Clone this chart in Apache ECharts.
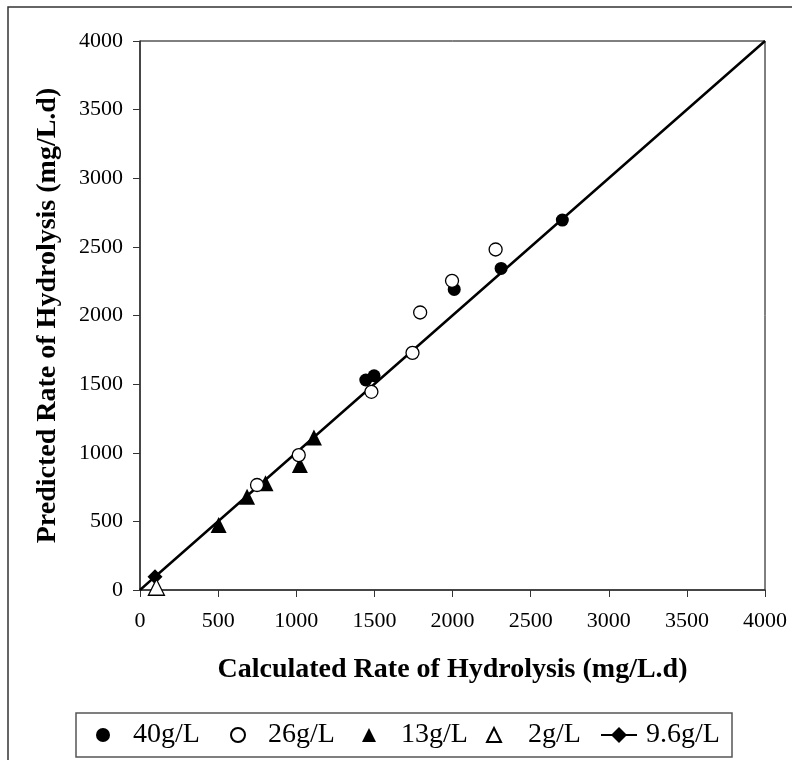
<!DOCTYPE html>
<html>
<head>
<meta charset="utf-8">
<script src="https://cdn.jsdelivr.net/npm/echarts@6/dist/echarts.min.js"></script>
<style>html,body{margin:0;padding:0;background:#fff}#c{width:792px;height:760px}</style>
</head>
<body>
<div id="c"></div>
<script>
const xTicks = [0, 500, 1000, 1500, 2000, 2500, 3000, 3500, 4000];
const yTicks = [0, 500, 1000, 1500, 2000, 2500, 3000, 3500, 4000];
const seriesNames = ['40g/L', '26g/L', '13g/L', '2g/L', '9.6g/L'];
const data40 = [[1445,1530],[1498,1561],[2011,2190],[2311,2343],[2703,2695]];
const data26 = [[749,765],[1016,983],[1481,1444],[1744,1728],[1793,2022],[1997,2253],[2276,2481]];
const data13 = [[503,473],[685,680],[803,777],[1023,910],[1113,1112]];
const data2 = [[105,20]];
const data96 = [[0,0],[96,97],[4000,4000]];

const serif = '"Liberation Serif","Times New Roman",serif';
const chart = echarts.init(document.getElementById('c'));

function mkLegend(name, left, iw, ih, pad) {
  return {
    data: [name], left: left, top: 720, padding: 0,
    itemWidth: iw, itemHeight: ih, selectedMode: false,
    textStyle: {fontFamily: serif, fontSize: 28, color: '#000', padding: [0,0,0,pad], lineHeight: 30}
  };
}

chart.setOption({
  animation: false,
  backgroundColor: '#fff',
  grid: {left: 140, right: 27, top: 41, bottom: 170, show: true, borderColor: '#000', borderWidth: 1},
  legend: [
    mkLegend(seriesNames[0], 96, 14, 14, 18),
    mkLegend(seriesNames[1], 230, 14, 14, 18),
    mkLegend(seriesNames[2], 362, 14, 14, 20),
    mkLegend(seriesNames[3], 486, 14, 14, 22),
    mkLegend(seriesNames[4], 600, 36, 20, 4)
  ],
  graphic: [
    {type: 'rect', shape: {x: 8, y: 7, width: 800, height: 800}, style: {fill: 'none', stroke: '#333', lineWidth: 1.5}, silent: true},
    {type: 'rect', shape: {x: 76, y: 713, width: 656, height: 44}, style: {fill: 'none', stroke: '#555', lineWidth: 1.5}, silent: true}
  ],
  xAxis: {
    type: 'value', min: xTicks[0], max: xTicks[xTicks.length-1], interval: xTicks[1]-xTicks[0],
    name: 'Calculated Rate of Hydrolysis (mg/L.d)', nameLocation: 'middle', nameGap: 66,
    nameTextStyle: {fontFamily: serif, fontSize: 28, fontWeight: 'bold', color: '#000'},
    axisLine: {show: true, lineStyle: {color: '#333', width: 1.5}},
    axisTick: {show: true, length: 7, lineStyle: {color: '#333'}},
    axisLabel: {fontFamily: serif, fontSize: 22, color: '#000', margin: 20, formatter: v => String(v)},
    splitLine: {show: false}
  },
  yAxis: {
    type: 'value', min: yTicks[0], max: yTicks[yTicks.length-1], interval: yTicks[1]-yTicks[0],
    name: 'Predicted Rate of Hydrolysis (mg/L.d)', nameLocation: 'middle', nameGap: 78,
    nameTextStyle: {fontFamily: serif, fontSize: 28, fontWeight: 'bold', color: '#000'},
    axisLine: {show: true, lineStyle: {color: '#333', width: 1.5}},
    axisTick: {show: true, length: 7, lineStyle: {color: '#333'}},
    axisLabel: {fontFamily: serif, fontSize: 22, color: '#000', margin: 17, formatter: v => String(v)},
    splitLine: {show: false}
  },
  series: [
    {name: seriesNames[4], type: 'line', data: data96, symbol: 'diamond',
     symbolSize: (v, p) => (p.dataIndex === 1 ? 15 : 0), showSymbol: true,
     lineStyle: {color: '#000', width: 2.5}, itemStyle: {color: '#000', opacity: 1}, z: 2},
    {name: seriesNames[0], type: 'scatter', data: data40, symbol: 'circle', symbolSize: 13,
     itemStyle: {color: '#000', opacity: 1}, z: 3},
    {name: seriesNames[1], type: 'scatter', data: data26, symbol: 'circle', symbolSize: 13,
     itemStyle: {color: '#fff', borderColor: '#000', borderWidth: 1.3, opacity: 1}, z: 4},
    {name: seriesNames[2], type: 'scatter', data: data13, symbol: 'triangle', symbolSize: 16,
     itemStyle: {color: '#000', opacity: 1}, z: 3},
    {name: seriesNames[3], type: 'scatter', data: data2, symbol: 'triangle', symbolSize: 16,
     itemStyle: {color: '#fff', borderColor: '#000', borderWidth: 1.3, opacity: 1}, z: 3}
  ]
});
</script>
</body>
</html>
